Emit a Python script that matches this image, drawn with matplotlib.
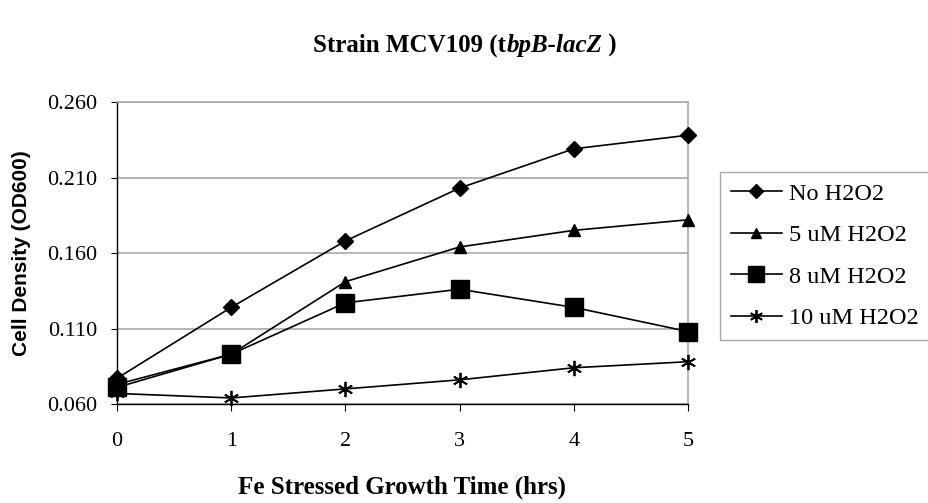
import numpy as np
import matplotlib
matplotlib.use("Agg")
import matplotlib.pyplot as plt

plt.rcParams.update({
    "font.family": "Liberation Serif",
    "font.size": 16,
})

# growth time points (hrs)
hours = [0, 1, 2, 3, 4, 5]

# cell density, OD600
od_no_h2o2 = [0.077, 0.124, 0.168, 0.203, 0.229, 0.238]
od_5um = [0.073, 0.093, 0.141, 0.164, 0.175, 0.182]
od_8um = [0.071, 0.093, 0.127, 0.136, 0.124, 0.108]
od_10um = [0.067, 0.064, 0.070, 0.076, 0.084, 0.088]

labels = ["No H2O2", "5 uM H2O2", "8 uM H2O2", "10 uM H2O2"]
yticks = [0.060, 0.110, 0.160, 0.210, 0.260]

fig = plt.figure(figsize=(9.29, 5.03), dpi=100)
W, H = 929, 503
ax = fig.add_axes([117 / W, 1 - 404 / H, (688 - 117) / W, (404 - 102) / H])

styles = [
    dict(marker="D", ms=8),
    dict(marker="^", ms=9),
    dict(marker="s", ms=13),
    dict(marker=(6, 2, 0), ms=11, mew=1.3),
]
series = [od_no_h2o2, od_5um, od_8um, od_10um]
for vals, lab, st in zip(series, labels, styles):
    ax.plot(hours, vals, color="black", lw=1.2, mfc="black", mec="black",
            label=lab, clip_on=False, zorder=3, **st)

ax.set_xlim(0, 5)
ax.set_ylim(0.060, 0.260)
ax.set_xticks(hours)
ax.set_yticks(yticks)
ax.set_yticklabels([f"{v:.3f}" for v in yticks])
ax.yaxis.grid(True, color="#a8a8a8", lw=1.2)
ax.set_axisbelow(True)

for side in ["top", "right"]:
    ax.spines[side].set_color("#a8a8a8")
    ax.spines[side].set_linewidth(1.2)
for side in ["left", "bottom"]:
    ax.spines[side].set_color("black")
    ax.spines[side].set_linewidth(1.0)

ax.tick_params(axis="x", direction="out", length=5, width=0.8, pad=15)
ax.tick_params(axis="y", direction="out", length=4, width=0.8, pad=10)

ax.set_ylabel("Cell Density (OD600)", family="Liberation Sans",
              fontweight="bold", fontsize=15, labelpad=12)
ax.set_xlabel("Fe Stressed Growth Time (hrs)", fontweight="bold",
              fontsize=18, labelpad=18)

leg = ax.legend(loc="upper left", bbox_to_anchor=(720 / W, 1 - 172 / H),
                bbox_transform=fig.transFigure, borderaxespad=0,
                frameon=True, fancybox=False, edgecolor="#909090",
                fontsize=17.5, handlelength=2.1, handletextpad=0.3,
                labelspacing=0.8, borderpad=0.45, markerscale=0.85)
leg.get_frame().set_linewidth(1.0)

# title with italic gene name
fs = 18
t1 = fig.text(0.5, 1 - 52 / H, "Strain MCV109 (t", fontsize=fs,
              fontweight="bold", ha="left", va="baseline")
t2 = fig.text(0, 0, "bpB-lacZ", fontsize=fs, fontweight="bold",
              style="italic", ha="left", va="baseline")
t3 = fig.text(0, 0, " )", fontsize=fs, fontweight="bold",
              ha="left", va="baseline")
fig.canvas.draw()
r = fig.canvas.get_renderer()
w1 = t1.get_window_extent(r).width
w2 = t2.get_window_extent(r).width
w3 = t3.get_window_extent(r).width
x0 = 465 - (w1 + w2 + w3) / 2
yb = t1.get_position()[1]
t1.set_position((x0 / W, yb))
t2.set_position(((x0 + w1) / W, yb))
t3.set_position(((x0 + w1 + w2) / W, yb))

fig.savefig("out.png", dpi=100)
